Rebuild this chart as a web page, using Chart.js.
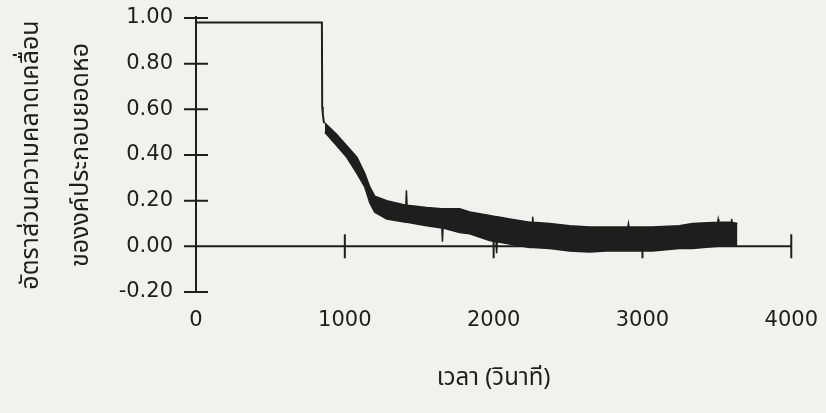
<!DOCTYPE html>
<html lang="th">
<head>
<meta charset="utf-8">
<script src="https://cdn.jsdelivr.net/npm/chart.js@4.4.1/dist/chart.umd.min.js"></script>
<style>
  html, body { margin: 0; padding: 0; background: #f1f1ef; }
  #wrap { width: 826px; height: 413px; }
</style>
</head>
<body>
<div id="wrap"><canvas id="chart"></canvas></div>
<script>
// flat part and the first drop (time in s, ratio)
const flatTime  = [0, 846, 848, 852, 860];
const flatRatio = [0.98, 0.98, 0.61, 0.58, 0.54];

// noisy band after the drop: upper and lower edge
const bandTime  = [866, 946, 1013, 1081, 1134, 1168, 1201, 1282, 1410, 1414, 1418, 1550, 1652, 1656, 1660,
                   1772, 1839, 1973, 2016, 2020, 2024, 2107, 2242, 2258, 2262, 2266, 2376, 2510, 2644, 2758,
                   2893, 2902, 2906, 2910, 3067, 3248, 3336, 3505, 3509, 3513, 3517, 3595, 3599, 3603, 3638];
const bandUpper = [0.54, 0.49, 0.44, 0.39, 0.32, 0.26, 0.22, 0.20, 0.18, 0.245, 0.18, 0.17, 0.165, 0.165, 0.165,
                   0.165, 0.15, 0.135, 0.13, 0.13, 0.13, 0.12, 0.105, 0.105, 0.13, 0.105, 0.10, 0.09, 0.085, 0.085,
                   0.085, 0.085, 0.10, 0.085, 0.085, 0.09, 0.10, 0.105, 0.12, 0.105, 0.105, 0.105, 0.12, 0.105, 0.10];
const bandLower = [0.50, 0.44, 0.39, 0.32, 0.26, 0.19, 0.15, 0.12, 0.105, 0.105, 0.105, 0.09, 0.08, 0.02, 0.08,
                   0.06, 0.055, 0.025, 0.02, -0.03, 0.02, 0.01, -0.005, -0.005, -0.005, -0.005, -0.01, -0.02, -0.025, -0.02,
                   -0.02, -0.02, -0.02, -0.02, -0.02, -0.01, -0.01, 0.0, 0.0, 0.0, 0.0, 0.0, 0.0, 0.0, 0.0];

const xTicks = [0, 1000, 2000, 3000, 4000];
const yTicks = [-0.2, 0, 0.2, 0.4, 0.6, 0.8, 1.0];

const ink = '#1e1e1e';
const numFont = 'DejaVu Sans, sans-serif';
const thaiFont = 'Noto Sans Thai, Noto Sans, DejaVu Sans, sans-serif';

const toPoints = (xs, ys) => xs.map((t, i) => ({x: t, y: ys[i]}));

// axes cross each other at zero, with ticks on both sides
const crossAxes = {
    id: 'crossAxes',
    beforeDatasetsDraw(chart) {
        const {ctx, scales: {x, y}} = chart;
        const x0 = x.getPixelForValue(0);
        const y0 = y.getPixelForValue(0);
        const len = 12;
        ctx.save();
        ctx.strokeStyle = ink;
        ctx.lineWidth = 2;
        ctx.beginPath();
        ctx.moveTo(x0, y.getPixelForValue(y.max) - 2);
        ctx.lineTo(x0, y.getPixelForValue(y.min));
        y.ticks.forEach(t => {
            const py = y.getPixelForValue(t.value);
            ctx.moveTo(x0 - len, py);
            ctx.lineTo(x0 + len, py);
        });
        ctx.moveTo(x0 - len, y0);
        ctx.lineTo(x.getPixelForValue(x.max), y0);
        x.ticks.forEach(t => {
            if (t.value === 0) return;
            const px = x.getPixelForValue(t.value);
            ctx.moveTo(px, y0 - len);
            ctx.lineTo(px, y0 + len);
        });
        ctx.stroke();
        ctx.restore();
    }
};

new Chart(document.getElementById('chart'), {
    type: 'line',
    data: {
        datasets: [
            {
                label: 'flat',
                data: toPoints(flatTime, flatRatio),
                borderColor: ink,
                borderWidth: 2,
                pointRadius: 0,
                fill: false
            },
            {
                label: 'upper',
                data: toPoints(bandTime, bandUpper),
                borderColor: ink,
                backgroundColor: ink,
                borderWidth: 1.5,
                pointRadius: 0,
                fill: '+1'
            },
            {
                label: 'lower',
                data: toPoints(bandTime, bandLower),
                borderColor: ink,
                borderWidth: 1.5,
                pointRadius: 0,
                fill: false
            }
        ]
    },
    options: {
        responsive: true,
        maintainAspectRatio: false,
        animation: false,
        layout: {padding: {top: 18, right: 34, left: 0, bottom: 0}},
        plugins: {
            legend: {display: false},
            tooltip: {enabled: false}
        },
        scales: {
            x: {
                type: 'linear',
                min: 0,
                max: 4000,
                afterBuildTicks: s => { s.ticks = xTicks.map(v => ({value: v})); },
                afterFit: s => { s.height = 121; },
                grid: {display: false},
                border: {display: false},
                ticks: {
                    color: ink,
                    padding: 8,
                    maxRotation: 0,
                    font: {family: numFont, size: 21},
                    callback: v => String(v)
                },
                title: {
                    display: true,
                    text: 'เวลา (วินาที)',
                    color: ink,
                    padding: {top: 0, bottom: 18},
                    font: {family: thaiFont, size: 24}
                }
            },
            y: {
                min: -0.2,
                max: 1.0,
                afterBuildTicks: s => { s.ticks = yTicks.map(v => ({value: v})); },
                afterFit: s => {
                    s.width = 196;
                    s.paddingTop = 0;
                    s.paddingBottom = 0;
                },
                grid: {display: false},
                border: {display: false},
                ticks: {
                    color: ink,
                    padding: 15,
                    font: {family: numFont, size: 21},
                    callback: v => v.toFixed(2)
                },
                title: {
                    display: true,
                    text: ['อัตราส่วนความคลาดเคลื่อน', 'ของงค์ประกอบยอดหอ'],
                    color: ink,
                    padding: {top: 8, bottom: 0},
                    font: {family: thaiFont, size: 25, lineHeight: '50px'}
                }
            }
        }
    },
    plugins: [crossAxes]
});
</script>
</body>
</html>
